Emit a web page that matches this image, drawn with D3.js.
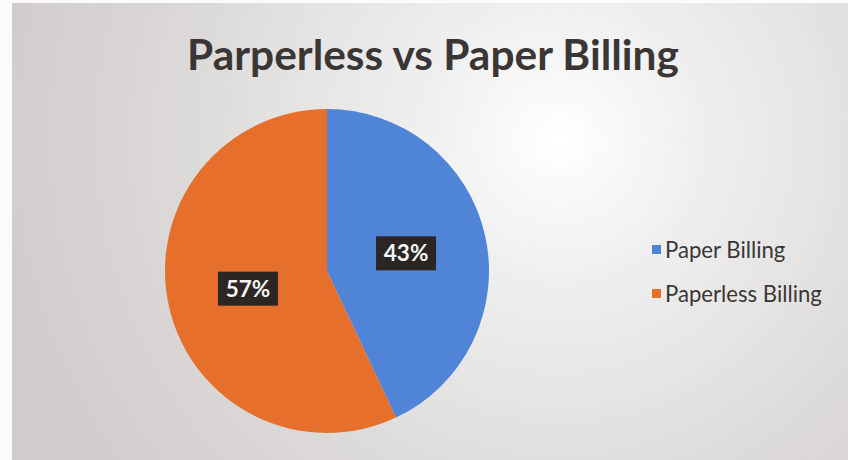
<!DOCTYPE html>
<html><head><meta charset="utf-8">
<script src="https://cdn.jsdelivr.net/npm/d3@7"></script>
<style>html,body{margin:0;padding:0;background:#fff;}svg{display:block;}</style>
</head><body>
<svg id="chart" width="848" height="460"></svg>
<script>
const title = "Parperless vs Paper Billing";
const categories = ["Paper Billing", "Paperless Billing"];
const values = [43, 57];
const colors = ["#4f84d6", "#e6702b"];

const svg = d3.select("#chart");
const defs = svg.append("defs");
const grad = defs.append("radialGradient").attr("id","bg")
  .attr("gradientUnits","userSpaceOnUse").attr("cx",560).attr("cy",140).attr("r",560);
grad.append("stop").attr("offset","0").attr("stop-color","#ffffff");
grad.append("stop").attr("offset","0.25").attr("stop-color","#f0efef");
grad.append("stop").attr("offset","0.65").attr("stop-color","#dddbda");
grad.append("stop").attr("offset","1").attr("stop-color","#d0cdcc");

svg.append("rect").attr("x",0).attr("y",0).attr("width",848).attr("height",460).attr("fill","#fbfbfb");
svg.append("rect").attr("x",12).attr("y",3).attr("width",836).attr("height",457).attr("fill","url(#bg)");

// title
const t = svg.append("text").attr("x",433).attr("y",70).attr("text-anchor","middle")
  .attr("font-family","Lato, 'Open Sans', sans-serif").attr("font-weight","bold")
  .attr("font-size",38).attr("fill","#3a3635").text(title);
const tw = t.node().getComputedTextLength();
t.attr("font-size", 38*492/tw);

// pie
const cx = 327, cy = 271, R = 162;
const pie = d3.pie().sort(null).value(d=>d)(values);
const arc = d3.arc().innerRadius(0).outerRadius(R);
const g = svg.append("g").attr("transform",`translate(${cx},${cy})`);
g.selectAll("path").data(pie).join("path").attr("d",arc).attr("fill",(d,i)=>colors[i]);

const total = d3.sum(values);
const lab = d3.arc().innerRadius(R/2).outerRadius(R/2);
const lg = g.selectAll("g.lab").data(pie).join("g").attr("class","lab")
  .attr("transform",d=>`translate(${lab.centroid(d)})`);
lg.append("rect").attr("x",-30).attr("y",-17).attr("width",60).attr("height",34).attr("fill","#2b2523");
lg.append("text").attr("text-anchor","middle").attr("y",8)
  .attr("font-family","Lato, 'Open Sans', sans-serif").attr("font-weight","bold")
  .attr("font-size",22.5).attr("fill","#f4f4f4")
  .text(d=>Math.round(d.data/total*100)+"%");

// legend
const leg = svg.append("g");
const items = leg.selectAll("g").data(categories).join("g")
  .attr("transform",(d,i)=>`translate(652,${245+i*44})`);
items.append("rect").attr("width",9).attr("height",9).attr("fill",(d,i)=>colors[i]);
const lt = items.append("text").attr("x",13).attr("y",13)
  .attr("font-family","Lato, 'Open Sans', sans-serif").attr("font-size",19).attr("fill","#3a3635")
  .text(d=>d);
const lw = lt.nodes()[1].getComputedTextLength();
lt.attr("font-size", 19*157/lw);
</script>
</body></html>
